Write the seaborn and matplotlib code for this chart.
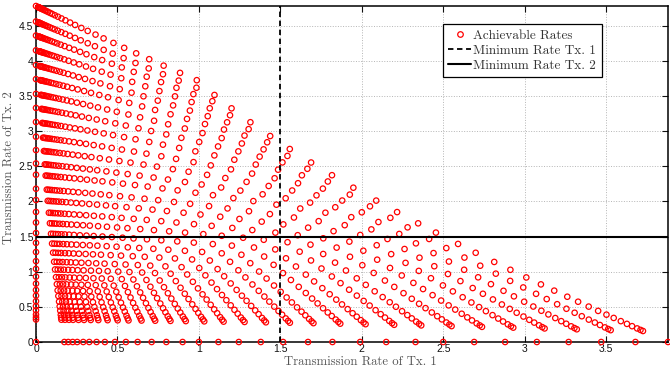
import numpy as np
import pandas as pd
import matplotlib
matplotlib.use("Agg")
import matplotlib.pyplot as plt
import seaborn as sns
from matplotlib.lines import Line2D

# Rate reached by each transmitter when the other one is silent,
# one entry per transmit power level (lowest to highest)
tx1_alone_rate = [0.174, 0.198, 0.225, 0.253, 0.29, 0.327, 0.372, 0.423, 0.485, 0.552,
                  0.624, 0.71, 0.80, 0.90, 1.0, 1.12, 1.245, 1.38, 1.517, 1.67,
                  1.82, 1.99, 2.15, 2.33, 2.50, 2.69, 2.88, 3.075, 3.27, 3.47, 3.68, 3.88]
tx2_alone_rate = [0.32, 0.35, 0.39, 0.45, 0.51, 0.58, 0.66, 0.74, 0.83, 0.93,
                  1.04, 1.15, 1.28, 1.41, 1.55, 1.70, 1.85, 2.02, 2.18, 2.38,
                  2.54, 2.73, 2.92, 3.13, 3.33, 3.53, 3.74, 3.94, 4.15, 4.36, 4.56, 4.78]

# Cross-link gains, relative to the direct-link SNR of the interfering transmitter
cross_gain_tx2_at_rx1 = 0.49
cross_gain_tx1_at_rx2 = 0.085

# Rate constraints
min_rate_tx1 = 1.5
min_rate_tx2 = 1.5

# Direct-link SNR per power level (silent transmitter included)
snr1 = np.concatenate([[0.0], 2.0 ** np.asarray(tx1_alone_rate) - 1.0])
snr2 = np.concatenate([[0.0], 2.0 ** np.asarray(tx2_alone_rate) - 1.0])

S1, S2 = np.meshgrid(snr1, snr2)
rate1 = np.log2(1.0 + S1 / (1.0 + cross_gain_tx2_at_rx1 * S2))
rate2 = np.log2(1.0 + S2 / (1.0 + cross_gain_tx1_at_rx2 * S1))
rates = pd.DataFrame({"r1": rate1.ravel(), "r2": rate2.ravel()})

sns.set_theme(style="ticks")
plt.rcParams.update({
    "font.family": ["Liberation Sans", "DejaVu Sans"],
    "axes.unicode_minus": False,
})

fig = plt.figure(figsize=(6.7, 3.67), dpi=100)
ax = fig.add_axes([36 / 670, 25 / 367, 632 / 670, 336 / 367])

sns.scatterplot(data=rates, x="r1", y="r2", ax=ax, marker="o", s=15,
                facecolors="none", edgecolor="red", linewidth=0.9,
                legend=False, zorder=3, clip_on=False)

ax.axvline(min_rate_tx1, color="black", ls=(0, (3, 2)), lw=1.3, zorder=4)
ax.axhline(min_rate_tx2, color="black", ls="-", lw=1.5, zorder=4)

ax.set_xlim(0, max(tx1_alone_rate))
ax.set_ylim(0, max(tx2_alone_rate))
xt = np.arange(0, 4.0, 0.5)
yt = np.arange(0, 5.0, 0.5)
ax.set_xticks(xt)
ax.set_yticks(yt)
fmt = lambda v: ("%g" % v)
ax.set_xticklabels([fmt(v) for v in xt])
ax.set_yticklabels([fmt(v) for v in yt])

ax.grid(True, ls=":", color="#b5b5b5", lw=0.7)
ax.set_axisbelow(True)
ax.tick_params(direction="in", top=True, right=True, length=4, width=0.8,
               labelsize=7.5, colors="#111111")
ax.tick_params(axis="x", pad=1.5)
ax.tick_params(axis="y", pad=2)
for sp in ax.spines.values():
    sp.set_color("black")
    sp.set_linewidth(1.1)

serif = dict(family="cmr10", size=9.2, color="#555555")
ax.set_xlabel("Transmission Rate of Tx. 1", fontdict=serif)
ax.set_ylabel("Transmission Rate of Tx. 2", fontdict=serif)
ax.xaxis.set_label_coords(0.513, -0.041)
ax.yaxis.set_label_coords(-0.034, 0.52)

handles = [
    Line2D([], [], marker="o", ls="none", mfc="none", mec="red", ms=4, mew=0.9),
    Line2D([], [], color="black", ls=(0, (3, 2)), lw=1.3),
    Line2D([], [], color="black", ls="-", lw=1.5),
]
labels = ["Achievable Rates", "Minimum Rate Tx. 1", "Minimum Rate Tx. 2"]
leg = ax.legend(handles, labels, loc="upper left", bbox_to_anchor=(0.644, 0.946),
                frameon=True, fancybox=False, framealpha=1, edgecolor="black",
                prop={"family": "cmr10", "size": 9.5}, handlelength=1.75,
                handletextpad=0.15, borderpad=0.4, labelspacing=0.22,
                borderaxespad=0)
leg.get_frame().set_linewidth(0.9)
for t in leg.get_texts():
    t.set_color("#333333")

fig.savefig("out.png", dpi=100)
